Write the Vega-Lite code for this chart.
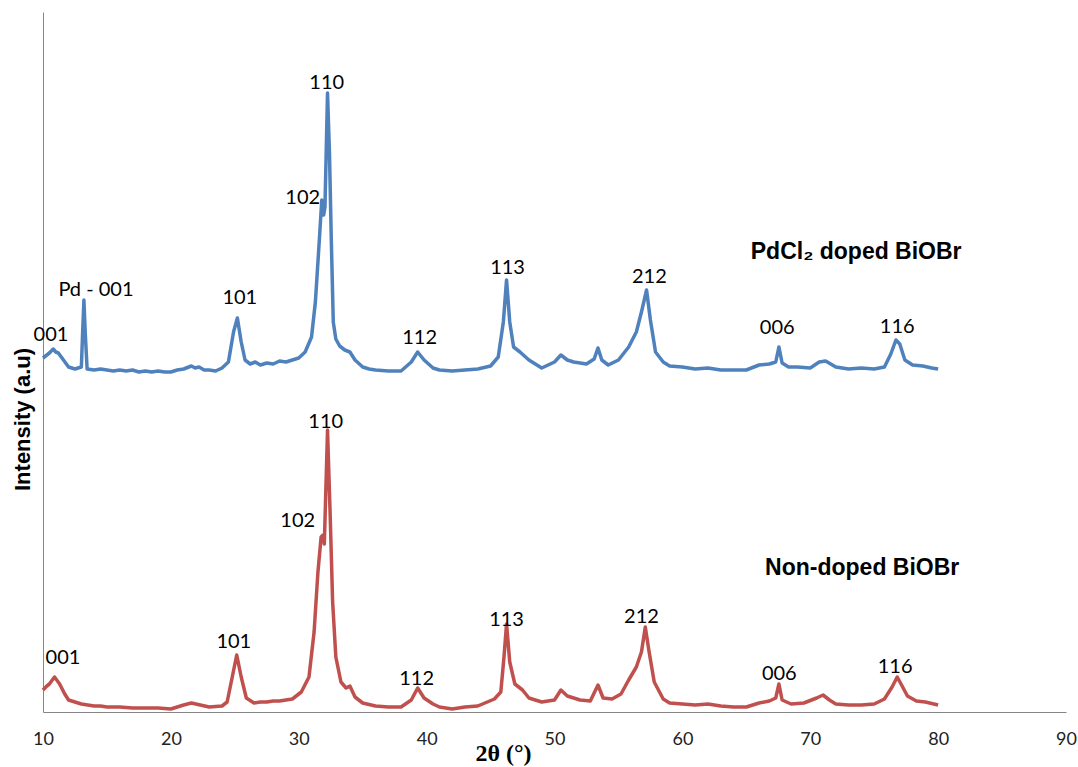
{
  "$schema": "https://vega.github.io/schema/vega-lite/v6.json",
  "width": 1023,
  "height": 700,
  "autosize": {"type": "none"},
  "padding": {"left": 43, "top": 12, "right": 12, "bottom": 55},
  "background": "white",
  "config": {"view": {"stroke": null}},
  "datasets": {
    "curves": [
      {"series":"doped","x":10,"y":354},{"series":"doped","x":10.3,"y":357},{"series":"doped","x":10.5,"y":359},{"series":"doped","x":10.8,"y":363},{"series":"doped","x":11.0,"y":360},{"series":"doped","x":11.2,"y":359},{"series":"doped","x":11.6,"y":352},{"series":"doped","x":12,"y":345},{"series":"doped","x":12.5,"y":343},{"series":"doped","x":13.0,"y":345},{"series":"doped","x":13.1,"y":380},{"series":"doped","x":13.2,"y":412},{"series":"doped","x":13.3,"y":380},{"series":"doped","x":13.45,"y":343},{"series":"doped","x":14,"y":342},{"series":"doped","x":14.5,"y":343},{"series":"doped","x":15,"y":342},{"series":"doped","x":15.5,"y":341},{"series":"doped","x":16,"y":342},{"series":"doped","x":16.5,"y":341},{"series":"doped","x":17,"y":342},{"series":"doped","x":17.5,"y":340},{"series":"doped","x":18,"y":341},{"series":"doped","x":18.5,"y":340},{"series":"doped","x":19,"y":341},{"series":"doped","x":19.5,"y":340},{"series":"doped","x":20,"y":340},{"series":"doped","x":20.5,"y":342},{"series":"doped","x":21,"y":343},{"series":"doped","x":21.6,"y":346},{"series":"doped","x":21.9,"y":344},{"series":"doped","x":22.2,"y":345},{"series":"doped","x":22.6,"y":342},{"series":"doped","x":23,"y":342},{"series":"doped","x":23.5,"y":341},{"series":"doped","x":24,"y":344},{"series":"doped","x":24.5,"y":350},{"series":"doped","x":24.9,"y":380},{"series":"doped","x":25.2,"y":394},{"series":"doped","x":25.5,"y":370},{"series":"doped","x":25.8,"y":352},{"series":"doped","x":26.2,"y":348},{"series":"doped","x":26.6,"y":350},{"series":"doped","x":27,"y":347},{"series":"doped","x":27.5,"y":349},{"series":"doped","x":28,"y":348},{"series":"doped","x":28.5,"y":351},{"series":"doped","x":29,"y":350},{"series":"doped","x":29.5,"y":352},{"series":"doped","x":30,"y":354},{"series":"doped","x":30.5,"y":360},{"series":"doped","x":31,"y":375},{"series":"doped","x":31.3,"y":410},{"series":"doped","x":31.6,"y":470},{"series":"doped","x":31.8,"y":512},{"series":"doped","x":31.95,"y":497},{"series":"doped","x":32.05,"y":505},{"series":"doped","x":32.25,"y":619},{"series":"doped","x":32.4,"y":560},{"series":"doped","x":32.55,"y":470},{"series":"doped","x":32.7,"y":390},{"series":"doped","x":32.9,"y":373},{"series":"doped","x":33.2,"y":366},{"series":"doped","x":33.6,"y":362},{"series":"doped","x":34,"y":360},{"series":"doped","x":34.4,"y":352},{"series":"doped","x":35,"y":345},{"series":"doped","x":35.5,"y":343},{"series":"doped","x":36,"y":342},{"series":"doped","x":37,"y":341},{"series":"doped","x":38,"y":341},{"series":"doped","x":38.8,"y":350},{"series":"doped","x":39.3,"y":360},{"series":"doped","x":39.8,"y":352},{"series":"doped","x":40.5,"y":344},{"series":"doped","x":41,"y":342},{"series":"doped","x":42,"y":341},{"series":"doped","x":43,"y":342},{"series":"doped","x":44,"y":343},{"series":"doped","x":45,"y":346},{"series":"doped","x":45.6,"y":355},{"series":"doped","x":46,"y":390},{"series":"doped","x":46.25,"y":432},{"series":"doped","x":46.5,"y":390},{"series":"doped","x":46.8,"y":365},{"series":"doped","x":47.3,"y":360},{"series":"doped","x":48,"y":352},{"series":"doped","x":49,"y":344},{"series":"doped","x":50,"y":350},{"series":"doped","x":50.5,"y":357},{"series":"doped","x":51,"y":352},{"series":"doped","x":51.5,"y":350},{"series":"doped","x":52.5,"y":348},{"series":"doped","x":53.1,"y":353},{"series":"doped","x":53.4,"y":364},{"series":"doped","x":53.7,"y":352},{"series":"doped","x":54.2,"y":347},{"series":"doped","x":55,"y":352},{"series":"doped","x":55.8,"y":365},{"series":"doped","x":56.4,"y":380},{"series":"doped","x":56.8,"y":400},{"series":"doped","x":57.2,"y":422},{"series":"doped","x":57.5,"y":392},{"series":"doped","x":57.9,"y":360},{"series":"doped","x":58.5,"y":350},{"series":"doped","x":59,"y":346},{"series":"doped","x":60,"y":345},{"series":"doped","x":61,"y":343},{"series":"doped","x":62,"y":344},{"series":"doped","x":63,"y":342},{"series":"doped","x":64,"y":342},{"series":"doped","x":65,"y":342},{"series":"doped","x":66,"y":347},{"series":"doped","x":66.8,"y":348},{"series":"doped","x":67.3,"y":350},{"series":"doped","x":67.55,"y":365},{"series":"doped","x":67.8,"y":349},{"series":"doped","x":68.3,"y":345},{"series":"doped","x":69,"y":345},{"series":"doped","x":70,"y":344},{"series":"doped","x":70.7,"y":350},{"series":"doped","x":71.2,"y":351},{"series":"doped","x":72,"y":345},{"series":"doped","x":73,"y":343},{"series":"doped","x":74,"y":344},{"series":"doped","x":75,"y":343},{"series":"doped","x":75.8,"y":345},{"series":"doped","x":76.3,"y":358},{"series":"doped","x":76.7,"y":372},{"series":"doped","x":77,"y":368},{"series":"doped","x":77.4,"y":352},{"series":"doped","x":78,"y":347},{"series":"doped","x":78.8,"y":346},{"series":"doped","x":79.5,"y":344},{"series":"doped","x":80,"y":343},
      {"series":"non","x":10,"y":22},{"series":"non","x":10.3,"y":26},{"series":"non","x":10.5,"y":28},{"series":"non","x":10.9,"y":35},{"series":"non","x":11.3,"y":28},{"series":"non","x":11.7,"y":18},{"series":"non","x":12,"y":12},{"series":"non","x":12.5,"y":10},{"series":"non","x":13,"y":8},{"series":"non","x":13.5,"y":7},{"series":"non","x":14,"y":6},{"series":"non","x":14.5,"y":6},{"series":"non","x":15,"y":5},{"series":"non","x":16,"y":5},{"series":"non","x":17,"y":4},{"series":"non","x":18,"y":4},{"series":"non","x":19,"y":4},{"series":"non","x":20,"y":3},{"series":"non","x":21,"y":7},{"series":"non","x":21.6,"y":9},{"series":"non","x":22.3,"y":7},{"series":"non","x":23,"y":5},{"series":"non","x":24,"y":6},{"series":"non","x":24.4,"y":10},{"series":"non","x":24.8,"y":35},{"series":"non","x":25.15,"y":57},{"series":"non","x":25.5,"y":35},{"series":"non","x":25.9,"y":14},{"series":"non","x":26.5,"y":9},{"series":"non","x":27,"y":10},{"series":"non","x":27.5,"y":10},{"series":"non","x":28,"y":11},{"series":"non","x":28.5,"y":11},{"series":"non","x":29,"y":12},{"series":"non","x":29.5,"y":13},{"series":"non","x":30.2,"y":20},{"series":"non","x":30.8,"y":35},{"series":"non","x":31.2,"y":80},{"series":"non","x":31.5,"y":140},{"series":"non","x":31.75,"y":175},{"series":"non","x":31.9,"y":177},{"series":"non","x":32.0,"y":168},{"series":"non","x":32.25,"y":282},{"series":"non","x":32.45,"y":200},{"series":"non","x":32.65,"y":110},{"series":"non","x":32.9,"y":55},{"series":"non","x":33.3,"y":30},{"series":"non","x":33.7,"y":24},{"series":"non","x":34.0,"y":26},{"series":"non","x":34.4,"y":15},{"series":"non","x":35,"y":9},{"series":"non","x":36,"y":6},{"series":"non","x":37,"y":5},{"series":"non","x":38,"y":5},{"series":"non","x":38.8,"y":12},{"series":"non","x":39.3,"y":24},{"series":"non","x":39.8,"y":14},{"series":"non","x":40.5,"y":8},{"series":"non","x":41,"y":5},{"series":"non","x":42,"y":3},{"series":"non","x":43,"y":5},{"series":"non","x":44,"y":6},{"series":"non","x":45.3,"y":13},{"series":"non","x":45.8,"y":20},{"series":"non","x":46.05,"y":55},{"series":"non","x":46.25,"y":88},{"series":"non","x":46.5,"y":50},{"series":"non","x":46.9,"y":28},{"series":"non","x":47.5,"y":22},{"series":"non","x":48,"y":14},{"series":"non","x":49,"y":10},{"series":"non","x":50,"y":12},{"series":"non","x":50.5,"y":22},{"series":"non","x":51,"y":16},{"series":"non","x":52,"y":12},{"series":"non","x":52.8,"y":11},{"series":"non","x":53.4,"y":27},{"series":"non","x":53.8,"y":14},{"series":"non","x":54.5,"y":13},{"series":"non","x":55.2,"y":18},{"series":"non","x":55.8,"y":32},{"series":"non","x":56.4,"y":45},{"series":"non","x":56.8,"y":60},{"series":"non","x":57.1,"y":85},{"series":"non","x":57.4,"y":60},{"series":"non","x":57.8,"y":30},{"series":"non","x":58.5,"y":13},{"series":"non","x":59,"y":9},{"series":"non","x":60,"y":8},{"series":"non","x":61,"y":7},{"series":"non","x":62,"y":8},{"series":"non","x":63,"y":6},{"series":"non","x":64,"y":5},{"series":"non","x":65,"y":5},{"series":"non","x":66,"y":9},{"series":"non","x":66.8,"y":11},{"series":"non","x":67.3,"y":14},{"series":"non","x":67.55,"y":28},{"series":"non","x":67.8,"y":12},{"series":"non","x":68.5,"y":8},{"series":"non","x":69.5,"y":9},{"series":"non","x":70.5,"y":14},{"series":"non","x":71,"y":17},{"series":"non","x":71.5,"y":12},{"series":"non","x":72,"y":8},{"series":"non","x":73,"y":7},{"series":"non","x":74,"y":7},{"series":"non","x":75,"y":8},{"series":"non","x":75.8,"y":13},{"series":"non","x":76.4,"y":25},{"series":"non","x":76.8,"y":35},{"series":"non","x":77.1,"y":28},{"series":"non","x":77.6,"y":16},{"series":"non","x":78.3,"y":11},{"series":"non","x":79,"y":10},{"series":"non","x":80,"y":7}
    ],
    "peaks": [
      {"x":10.625,"y":377,"text":"001"},{"x":14.14,"y":422,"text":"Pd - 001"},{"x":25.39,"y":414,"text":"101"},{"x":30.31,"y":514,"text":"102"},{"x":32.19,"y":629,"text":"110"},{"x":39.45,"y":374,"text":"112"},{"x":46.33,"y":444,"text":"113"},{"x":57.42,"y":435,"text":"212"},{"x":67.42,"y":384,"text":"006"},{"x":76.8,"y":385,"text":"116"},
      {"x":11.56,"y":54,"text":"001"},{"x":24.92,"y":70,"text":"101"},{"x":29.92,"y":191,"text":"102"},{"x":32.11,"y":290,"text":"110"},{"x":39.22,"y":33,"text":"112"},{"x":46.25,"y":92,"text":"113"},{"x":56.8,"y":95,"text":"212"},{"x":67.58,"y":38,"text":"006"},{"x":76.64,"y":45,"text":"116"}
    ],
    "names": [
      {"x":73.59,"y":460,"text":"PdCl₂ doped BiOBr"},
      {"x":74.06,"y":144,"text":"Non-doped BiOBr"}
    ]
  },
  "encoding": {
    "x": {"field": "x", "type": "quantitative",
      "scale": {"domain": [10, 90], "nice": false, "zero": false},
      "axis": {"values": [10,20,30,40,50,60,70,80,90], "title": "2θ (°)", "grid": false, "ticks": false,
        "domainColor": "#868686", "domainWidth": 1, "labelFont": "Lato", "labelFontSize": 18, "labelColor": "#222222",
        "labelPadding": 18, "labelFlush": false,
        "titleFont": "Liberation Serif", "titleFontSize": 24, "titleFontWeight": "bold", "titleColor": "#000000",
        "titleX": 460, "titleY": 41, "titleBaseline": "middle"}},
    "y": {"field": "y", "type": "quantitative",
      "scale": {"domain": [0, 700], "nice": false},
      "axis": {"title": "Intensity (a.u)", "grid": false, "ticks": false, "labels": false,
        "domainColor": "#868686", "domainWidth": 1,
        "titleFont": "Liberation Sans", "titleFontSize": 22, "titleFontWeight": "bold", "titleColor": "#000000",
        "titleX": -21, "titleY": 407, "titleBaseline": "middle", "titleAlign": "center", "titleAngle": -90}}
  },
  "layer": [
    {
      "data": {"name": "curves"},
      "mark": {"type": "line", "strokeWidth": 3.5, "strokeJoin": "round"},
      "encoding": {
        "color": {"field": "series", "type": "nominal", "legend": null,
          "scale": {"domain": ["doped", "non"], "range": ["#4F81BD", "#C0504D"]}},
        "detail": {"field": "series"}
      }
    },
    {
      "data": {"name": "peaks"},
      "mark": {"type": "text", "font": "Lato", "fontSize": 20, "color": "#000000", "baseline": "middle", "align": "center"},
      "encoding": {"text": {"field": "text"}}
    },
    {
      "data": {"name": "names"},
      "mark": {"type": "text", "font": "Liberation Sans", "fontSize": 23, "fontWeight": "bold", "color": "#000000", "baseline": "middle", "align": "center"},
      "encoding": {"text": {"field": "text"}}
    }
  ]
}
